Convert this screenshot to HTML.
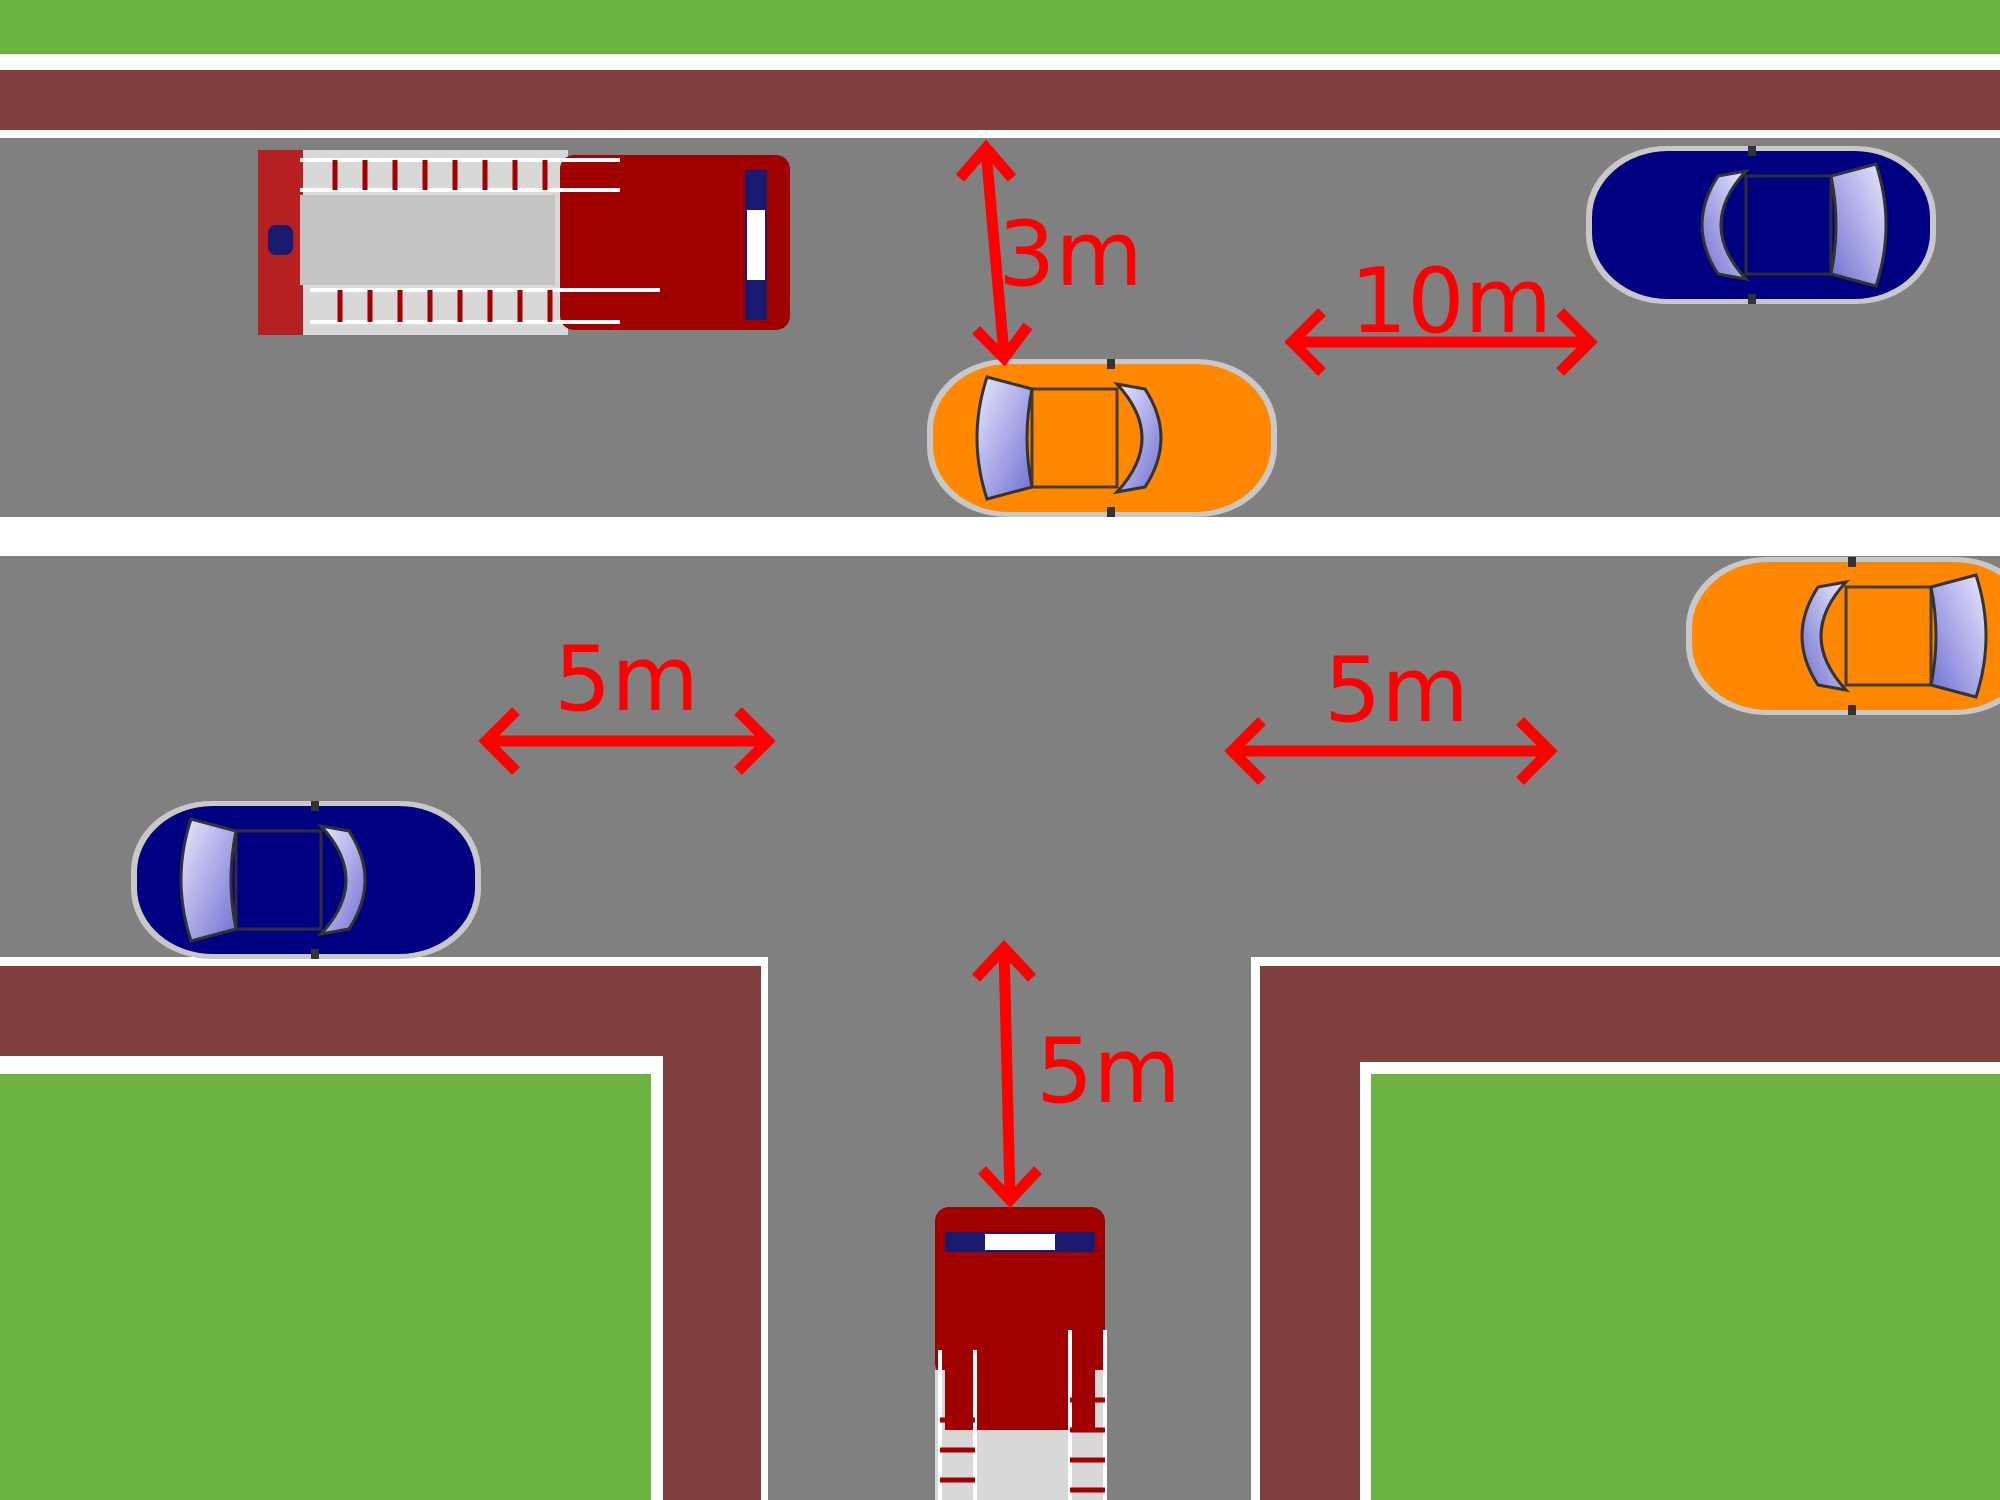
<!DOCTYPE html>
<html><head><meta charset="utf-8"><style>
html,body{margin:0;padding:0;background:#808080}
svg{display:block}
text{font-family:"DejaVu Sans","Liberation Sans",sans-serif;fill:#ff0000}
</style></head><body>
<svg width="2000" height="1500" viewBox="0 0 2000 1500" xmlns="http://www.w3.org/2000/svg">
<defs>
<linearGradient id="gl" x1="0" y1="0" x2="1" y2="1"><stop offset="0" stop-color="#e8e8ff"/><stop offset="1" stop-color="#7070d0"/></linearGradient>
<g id="car">
<rect x="0" y="0" width="350" height="158" rx="80" ry="70" fill="#c8c8c8"/>
<rect x="6" y="5" width="338" height="148" rx="76" ry="66" fill="currentColor"/>
<path d="M60 18 Q40 79 60 140 L105 128 Q95 79 105 30 Z" fill="url(#gl)" stroke="#333" stroke-width="3"/>
<rect x="105" y="30" width="85" height="98" fill="currentColor" stroke="#333" stroke-width="3" opacity=".9"/>
<path d="M190 25 Q240 79 190 133 L218 128 Q250 79 218 30 Z" fill="url(#gl)" stroke="#333" stroke-width="3"/>
<rect x="180" y="0" width="8" height="10" fill="#333"/><rect x="180" y="148" width="8" height="10" fill="#333"/>
</g>
</defs>
<rect x="0" y="0" width="2000" height="54" fill="#6db33f"/>
<rect x="0" y="54" width="2000" height="16" fill="#fff"/>
<rect x="0" y="70" width="2000" height="60" fill="#803f3f"/>
<rect x="0" y="130" width="2000" height="8" fill="#fff"/>
<rect x="0" y="138" width="2000" height="379" fill="#808080"/>
<rect x="0" y="517" width="2000" height="39" fill="#fff"/>
<rect x="0" y="556" width="2000" height="944" fill="#808080"/>
<rect x="0" y="957" width="768" height="543" fill="#fff"/>
<rect x="0" y="966" width="761" height="534" fill="#803f3f"/>
<rect x="0" y="1056" width="663" height="444" fill="#fff"/>
<rect x="0" y="1074" width="651" height="426" fill="#6db33f"/>
<rect x="1251" y="957" width="749" height="543" fill="#fff"/>
<rect x="1260" y="966" width="740" height="534" fill="#803f3f"/>
<rect x="1360" y="1062" width="640" height="438" fill="#fff"/>
<rect x="1371" y="1074" width="629" height="426" fill="#6db33f"/>

<g>
<rect x="258" y="150" width="310" height="185" fill="#d8d8d8"/>
<rect x="258" y="150" width="45" height="185" fill="#b00000" opacity=".85"/>
<rect x="300" y="195" width="255" height="90" fill="#c4c4c4"/>
<rect x="560" y="155" width="230" height="175" rx="14" fill="#a00000"/>
<rect x="745" y="170" width="22" height="150" fill="#1a1a70"/>
<rect x="747" y="210" width="18" height="70" fill="#fff"/>
<g stroke="#fff" stroke-width="4"><line x1="300" y1="160" x2="620" y2="160"/><line x1="300" y1="190" x2="620" y2="190"/><line x1="310" y1="290" x2="660" y2="290"/><line x1="310" y1="322" x2="620" y2="322"/></g>
<g stroke="#a00000" stroke-width="5">
<line x1="335" y1="160" x2="335" y2="190"/><line x1="365" y1="160" x2="365" y2="190"/><line x1="395" y1="160" x2="395" y2="190"/><line x1="425" y1="160" x2="425" y2="190"/><line x1="455" y1="160" x2="455" y2="190"/><line x1="485" y1="160" x2="485" y2="190"/><line x1="515" y1="160" x2="515" y2="190"/><line x1="545" y1="160" x2="545" y2="190"/>
<line x1="340" y1="290" x2="340" y2="322"/><line x1="370" y1="290" x2="370" y2="322"/><line x1="400" y1="290" x2="400" y2="322"/><line x1="430" y1="290" x2="430" y2="322"/><line x1="460" y1="290" x2="460" y2="322"/><line x1="490" y1="290" x2="490" y2="322"/><line x1="520" y1="290" x2="520" y2="322"/><line x1="550" y1="290" x2="550" y2="322"/></g>
<rect x="268" y="225" width="25" height="30" rx="8" fill="#1a1a70"/>
</g>
<g>
<rect x="935" y="1207" width="170" height="170" rx="14" fill="#a00000"/>
<rect x="945" y="1232" width="150" height="20" fill="#1a1a70"/>
<rect x="985" y="1234" width="70" height="16" fill="#fff"/>
<rect x="935" y="1370" width="170" height="130" fill="#d8d8d8"/>
<rect x="945" y="1370" width="150" height="60" fill="#a00000"/>
<g stroke="#fff" stroke-width="4"><line x1="940" y1="1350" x2="940" y2="1500"/><line x1="975" y1="1350" x2="975" y2="1500"/><line x1="1070" y1="1330" x2="1070" y2="1500"/><line x1="1105" y1="1330" x2="1105" y2="1500"/></g>
<g stroke="#a00000" stroke-width="5"><line x1="940" y1="1420" x2="975" y2="1420"/><line x1="940" y1="1450" x2="975" y2="1450"/><line x1="940" y1="1480" x2="975" y2="1480"/><line x1="1070" y1="1400" x2="1105" y2="1400"/><line x1="1070" y1="1430" x2="1105" y2="1430"/><line x1="1070" y1="1460" x2="1105" y2="1460"/><line x1="1070" y1="1490" x2="1105" y2="1490"/></g>
</g>

<use href="#car" x="927" y="359" style="color:#ff8800"/>
<use href="#car" x="0" y="0" style="color:#000080" transform="translate(1936,146) scale(-1,1)"/>
<use href="#car" x="0" y="0" style="color:#ff8800" transform="translate(2036,557) scale(-1,1)"/>
<use href="#car" x="131" y="801" style="color:#000080"/>

<g stroke="#ff0000" stroke-width="11" fill="none">
<line x1="986" y1="150" x2="1004" y2="355"/>
<polyline points="960,178 986,148 1012,178"/>
<polyline points="976,330 1004,358 1028,326"/>
<line x1="1292" y1="342" x2="1590" y2="342"/>
<polyline points="1322,312 1292,342 1322,372"/>
<polyline points="1560,312 1590,342 1560,372"/>
<line x1="486" y1="741" x2="768" y2="741"/>
<polyline points="516,711 486,741 516,771"/>
<polyline points="738,711 768,741 738,771"/>
<line x1="1232" y1="751" x2="1550" y2="751"/>
<polyline points="1262,721 1232,751 1262,781"/>
<polyline points="1520,721 1550,751 1520,781"/>
<line x1="1004" y1="948" x2="1010" y2="1198"/>
<polyline points="976,978 1004,948 1032,978"/>
<polyline points="982,1170 1010,1200 1038,1170"/>
</g>
<text x="998" y="285" font-size="90">3m</text>
<text x="1350" y="332" font-size="90">10m</text>
<text x="554" y="710" font-size="90">5m</text>
<text x="1324" y="721" font-size="90">5m</text>
<text x="1036" y="1102" font-size="90">5m</text>
</svg>
</body></html>
